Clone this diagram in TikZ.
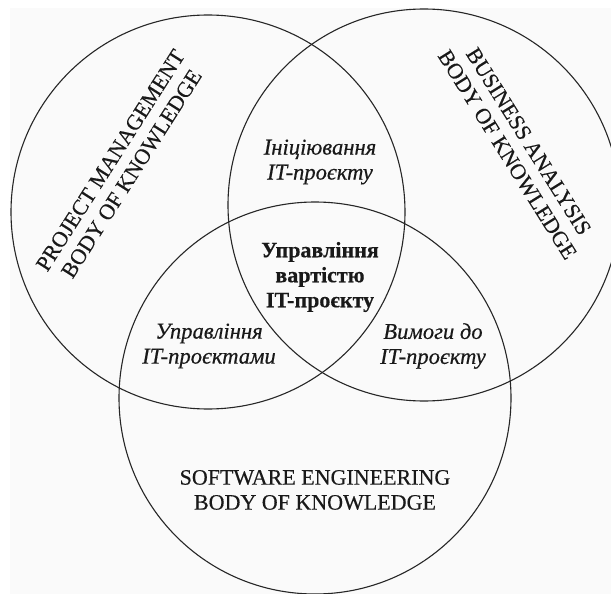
\documentclass[tikz,border=0pt]{standalone}
\usepackage{fontspec}
\setmainfont{Liberation Serif}[FakeBold=0.4]
\begin{document}
\begin{tikzpicture}[x=1pt,y=-1pt,
  ring/.style={draw=black!85, line width=1.1pt},
  label/.style={align=center, text=black!90, font=\fontsize{22}{25}\selectfont, inner sep=0pt},
  zone/.style={label, font=\fontsize{22.6}{25}\selectfont\itshape},
  core/.style={label, font=\fontsize{22}{25}\selectfont\bfseries}]
  \useasboundingbox (0,0) rectangle (611,594);
  \fill[white] (0,0) rectangle (611,594);
  \fill[black!2] (10,8) rectangle (611,594);
  \begin{scope}
    \clip (0,0) rectangle (611,594);
    % the three bodies of knowledge
    \draw[ring] (208,212) circle[radius=197];
    \draw[ring] (424,205) circle[radius=196];
    \draw[ring] (315,398) circle[radius=196];
  \end{scope}
  % circle titles
  \node[label, rotate=57.5] (pm) at (121,167) {PROJECT MANAGEMENT\\BODY OF KNOWLEDGE};
  \node[label, rotate=-58] (ba) at (518,148) {BUSINESS ANALYSIS\\BODY OF KNOWLEDGE};
  \node[label] (se) at (315,490) {SOFTWARE ENGINEERING\\BODY OF KNOWLEDGE};
  % pairwise overlaps
  \node[zone] (init) at (320,162) {Ініціювання\\IT-проєкту};
  \node[zone] (mgmt) at (209,346) {Управління\\IT-проєктами};
  \node[zone] (req) at (433,346) {Вимоги до\\IT-проєкту};
  % common core
  \node[core] (cost) at (320,277) {Управління\\вартістю\\IT-проєкту};
\end{tikzpicture}
\end{document}
